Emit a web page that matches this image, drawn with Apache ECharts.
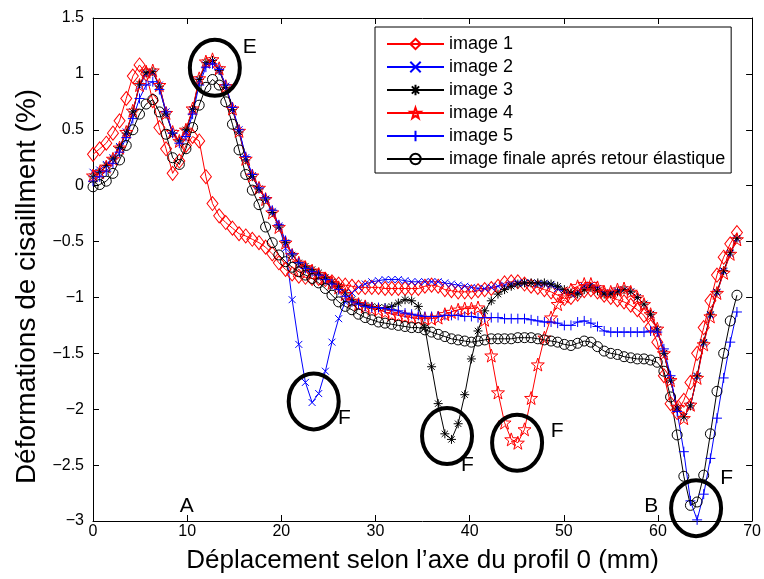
<!DOCTYPE html>
<html>
<head>
<meta charset="utf-8">
<title>Déformations de cisaillment</title>
<script src="https://cdn.jsdelivr.net/npm/echarts@6/dist/echarts.min.js"></script>
<style>
  html, body { margin: 0; padding: 0; background: #fff; }
  #main { width: 764px; height: 579px; }
</style>
</head>
<body>
<div id="main"></div>
<script>
// position le long du profil (mm)
var xs = [0, 0.71, 1.41, 2.12, 2.82, 3.53, 4.23, 4.94, 5.64, 6.35, 7.05, 7.76, 8.46, 9.17, 9.87, 10.58, 11.28, 11.99, 12.69, 13.40,
  14.10, 14.81, 15.51, 16.22, 16.92, 17.63, 18.33, 19.04, 19.74, 20.45, 21.15, 21.86, 22.56, 23.27, 23.97, 24.68, 25.38, 26.09, 26.79, 27.50,
  28.20, 28.91, 29.61, 30.32, 31.02, 31.73, 32.43, 33.14, 33.84, 34.55, 35.25, 35.96, 36.66, 37.37, 38.07, 38.78, 39.48, 40.19, 40.89, 41.60,
  42.30, 43.01, 43.71, 44.42, 45.12, 45.83, 46.53, 47.24, 47.94, 48.65, 49.35, 50.06, 50.76, 51.47, 52.17, 52.88, 53.58, 54.29, 54.99, 55.70,
  56.40, 57.11, 57.81, 58.52, 59.22, 59.93, 60.63, 61.34, 62.04, 62.75, 63.45, 64.16, 64.86, 65.57, 66.27, 66.98, 67.68, 68.39];

// deformations (%)
var image1 = [0.28, 0.33, 0.38, 0.47, 0.58, 0.78, 0.98, 1.08, 1.00, 0.76, 0.52, 0.33, 0.11, 0.22, 0.36, 0.44, 0.40, 0.08, -0.16, -0.27,
  -0.33, -0.38, -0.43, -0.45, -0.48, -0.51, -0.55, -0.61, -0.69, -0.75, -0.79, -0.81, -0.82, -0.83, -0.83, -0.84, -0.86, -0.88, -0.89, -0.90,
  -0.91, -0.91, -0.91, -0.91, -0.92, -0.92, -0.92, -0.92, -0.92, -0.92, -0.90, -0.89, -0.90, -0.93, -0.94, -0.95, -0.95, -0.95, -0.94, -0.93,
  -0.92, -0.90, -0.87, -0.86, -0.86, -0.88, -0.90, -0.91, -0.93, -0.95, -0.98, -1.01, -1.00, -0.97, -0.94, -0.93, -0.95, -0.98, -1.00, -1.02,
  -1.04, -1.07, -1.11, -1.16, -1.26, -1.40, -1.70, -1.95, -2.03, -1.92, -1.76, -1.50, -1.27, -1.03, -0.80, -0.64, -0.52, -0.42];
var image2 = [0.12, 0.14, 0.19, 0.25, 0.35, 0.48, 0.66, 0.89, 1.00, 1.01, 0.90, 0.66, 0.47, 0.39, 0.48, 0.67, 0.94, 1.08, 1.10, 1.04,
  0.89, 0.69, 0.50, 0.25, 0.09, -0.03, -0.12, -0.23, -0.36, -0.56, -1.02, -1.42, -1.76, -1.94, -1.86, -1.66, -1.40, -1.19, -1.04, -0.96,
  -0.91, -0.88, -0.86, -0.85, -0.84, -0.84, -0.84, -0.85, -0.86, -0.86, -0.86, -0.86, -0.86, -0.87, -0.88, -0.89, -0.90, -0.91, -0.92, -0.92,
  -0.91, -0.90, -0.89, -0.88, -0.87, -0.87, -0.87, -0.88, -0.88, -0.89, -0.92, -0.95, -0.97, -0.95, -0.90, -0.89, -0.92, -0.96, -0.96, -0.94,
  -0.93, -0.95, -1.00, -1.06, -1.15, -1.29, -1.50, -1.74, -1.99, -2.07, -1.97, -1.71, -1.41, -1.16, -0.96, -0.77, -0.61, -0.48];
var image3 = [0.08, 0.12, 0.18, 0.24, 0.34, 0.47, 0.66, 0.91, 1.01, 1.02, 0.89, 0.64, 0.47, 0.40, 0.50, 0.68, 0.95, 1.10, 1.12, 1.03,
  0.88, 0.68, 0.48, 0.23, 0.08, -0.03, -0.12, -0.24, -0.37, -0.51, -0.62, -0.69, -0.72, -0.75, -0.78, -0.82, -0.86, -0.90, -0.96, -1.02,
  -1.05, -1.07, -1.08, -1.09, -1.09, -1.08, -1.05, -1.02, -1.03, -1.08, -1.27, -1.62, -1.95, -2.22, -2.27, -2.13, -1.87, -1.55, -1.30, -1.12,
  -1.03, -0.97, -0.93, -0.90, -0.88, -0.87, -0.87, -0.87, -0.87, -0.88, -0.90, -0.93, -0.96, -0.97, -0.93, -0.91, -0.94, -0.97, -0.97, -0.95,
  -0.93, -0.95, -1.00, -1.06, -1.15, -1.29, -1.50, -1.74, -1.99, -2.07, -1.97, -1.70, -1.40, -1.15, -0.95, -0.76, -0.60, -0.47];
var image4 = [0.09, 0.12, 0.17, 0.24, 0.34, 0.48, 0.67, 0.90, 1.02, 1.03, 0.90, 0.65, 0.48, 0.40, 0.50, 0.69, 0.96, 1.11, 1.13, 1.05,
  0.89, 0.69, 0.49, 0.24, 0.09, -0.02, -0.12, -0.24, -0.37, -0.51, -0.62, -0.69, -0.73, -0.76, -0.79, -0.83, -0.87, -0.91, -0.97, -1.03,
  -1.06, -1.08, -1.10, -1.11, -1.13, -1.15, -1.16, -1.17, -1.18, -1.19, -1.19, -1.19, -1.18, -1.15, -1.13, -1.11, -1.10, -1.10, -1.09, -1.20,
  -1.52, -1.85, -2.12, -2.27, -2.30, -2.18, -1.90, -1.60, -1.36, -1.18, -1.06, -0.99, -0.93, -0.90, -0.88, -0.88, -0.91, -0.95, -0.95, -0.93,
  -0.92, -0.95, -1.00, -1.06, -1.15, -1.28, -1.50, -1.74, -1.98, -2.08, -1.96, -1.72, -1.42, -1.17, -0.96, -0.78, -0.61, -0.48];
var image5 = [0.04, 0.08, 0.13, 0.20, 0.30, 0.43, 0.60, 0.78, 0.90, 0.93, 0.86, 0.66, 0.47, 0.38, 0.44, 0.64, 0.90, 1.06, 1.09, 1.04,
  0.90, 0.70, 0.50, 0.26, 0.10, -0.02, -0.11, -0.22, -0.35, -0.49, -0.61, -0.69, -0.74, -0.77, -0.80, -0.84, -0.88, -0.93, -0.99, -1.04,
  -1.06, -1.08, -1.09, -1.09, -1.10, -1.11, -1.12, -1.14, -1.15, -1.16, -1.17, -1.17, -1.17, -1.16, -1.16, -1.16, -1.17, -1.17, -1.18, -1.18,
  -1.18, -1.18, -1.19, -1.19, -1.19, -1.19, -1.20, -1.21, -1.22, -1.22, -1.23, -1.25, -1.25, -1.22, -1.21, -1.23, -1.26, -1.30, -1.31, -1.31,
  -1.31, -1.31, -1.31, -1.31, -1.30, -1.31, -1.46, -1.70, -2.02, -2.38, -2.82, -2.99, -2.76, -2.44, -2.08, -1.72, -1.40, -1.13];
var imageFinale = [-0.01, 0.01, 0.04, 0.11, 0.23, 0.36, 0.50, 0.64, 0.73, 0.77, 0.66, 0.46, 0.25, 0.19, 0.33, 0.52, 0.72, 0.88, 0.95, 0.90,
  0.75, 0.55, 0.32, 0.10, -0.04, -0.17, -0.37, -0.51, -0.62, -0.68, -0.73, -0.77, -0.80, -0.83, -0.87, -0.92, -0.98, -1.04, -1.08, -1.11,
  -1.15, -1.18, -1.20, -1.22, -1.23, -1.24, -1.25, -1.26, -1.27, -1.27, -1.29, -1.31, -1.33, -1.35, -1.37, -1.38, -1.39, -1.40, -1.39, -1.38,
  -1.37, -1.37, -1.37, -1.37, -1.36, -1.36, -1.36, -1.37, -1.38, -1.39, -1.40, -1.42, -1.43, -1.41, -1.39, -1.40, -1.44, -1.48, -1.50, -1.51,
  -1.53, -1.54, -1.55, -1.55, -1.56, -1.58, -1.66, -1.89, -2.23, -2.60, -2.86, -2.83, -2.59, -2.22, -1.84, -1.50, -1.21, -0.98];

var names = ['image 1', 'image 2', 'image 3', 'image 4', 'image 5', 'image finale aprés retour élastique'];

// annotations: cercles (centre en mm / %) et lettres
var cercles = [[12.94, 1.054], [23.44, -1.93], [37.6, -2.24], [45.04, -2.30], [64.05, -2.885]];
var lettres = [['E', 16.65, 1.24], ['F', 26.7, -2.08], ['F', 39.77, -2.50], ['F', 49.3, -2.20], ['F', 67.3, -2.62],
  ['A', 9.97, -2.87], ['B', 59.28, -2.87]];

var FONT = 'Liberation Sans, Arial, Helvetica, sans-serif';

function pts(ys) {
  var out = [];
  for (var i = 0; i < xs.length; i++) {
    out.push([xs[i], ys[i]]);
  }
  return out;
}

// marqueurs creux facon matlab
var SYM = {
  diamond: 'path://M5,0L10,7L5,14L0,7Z',
  cross: 'path://M0,0L10,10M10,0L0,10',
  aster: 'path://M5,0L5,10M0,5L10,5M1.5,1.5L8.5,8.5M8.5,1.5L1.5,8.5',
  star: 'path://M10,0L12.35,6.76L19.51,6.91L13.8,11.24L15.88,18.09L10,14L4.12,18.09L6.2,11.24L0.49,6.91L7.65,6.76Z',
  plus: 'path://M5,0L5,10M0,5L10,5',
  circle: 'circle'
};

function serie(name, ys, color, symbol, size) {
  return {
    name: name,
    type: 'line',
    data: pts(ys),
    symbol: symbol,
    symbolSize: size,
    showAllSymbol: true,
    lineStyle: { color: color, width: 1 },
    itemStyle: { color: 'transparent', borderColor: color, borderWidth: 1 },
    emphasis: { disabled: true }
  };
}

var minus = function (v) { return String(v).replace('-', '\u2212'); };

var myChart = echarts.init(document.getElementById('main'));

var option = {
  animation: false,
  backgroundColor: '#fff',
  textStyle: { fontFamily: FONT },
  grid: { left: 93, right: 11, top: 18, bottom: 56 },
  legend: {
    orient: 'vertical',
    left: 375,
    top: 27,
    padding: [8, 6, 5, 11],
    itemWidth: 57,
    itemHeight: 13,
    itemGap: 5,
    backgroundColor: '#fff',
    borderColor: '#000',
    borderWidth: 1,
    textStyle: { fontFamily: FONT, fontSize: 18, color: '#000' },
    data: names
  },
  xAxis: [{
    type: 'value', min: 0, max: 70, interval: 10,
    name: 'Déplacement selon l’axe du profil 0 (mm)',
    nameLocation: 'middle', nameGap: 27,
    nameTextStyle: { fontFamily: FONT, fontSize: 26, color: '#000' },
    axisLine: { show: true, onZero: false, lineStyle: { color: '#000', width: 1 } },
    axisTick: { show: true, inside: true, length: 6, lineStyle: { color: '#000' } },
    axisLabel: { fontFamily: FONT, fontSize: 16, color: '#000', margin: 3 },
    splitLine: { show: false }
  }, {
    type: 'value', min: 0, max: 70, interval: 10, position: 'top',
    axisLine: { show: true, onZero: false, lineStyle: { color: '#000', width: 1 } },
    axisTick: { show: true, inside: true, length: 6, lineStyle: { color: '#000' } },
    axisLabel: { show: false },
    splitLine: { show: false }
  }],
  yAxis: [{
    type: 'value', min: -3, max: 1.5, interval: 0.5,
    name: 'Déformations de cisaillment (%)',
    nameLocation: 'middle', nameGap: 52,
    nameTextStyle: { fontFamily: FONT, fontSize: 28, color: '#000', padding: [0, 34, 0, 0] },
    axisLine: { show: true, onZero: false, lineStyle: { color: '#000', width: 1 } },
    axisTick: { show: true, inside: true, length: 6, lineStyle: { color: '#000' } },
    axisLabel: { fontFamily: FONT, fontSize: 16, color: '#000', margin: 9, formatter: minus },
    splitLine: { show: false }
  }, {
    type: 'value', min: -3, max: 1.5, interval: 0.5, position: 'right',
    axisLine: { show: true, onZero: false, lineStyle: { color: '#000', width: 1 } },
    axisTick: { show: true, inside: true, length: 6, lineStyle: { color: '#000' } },
    axisLabel: { show: false },
    splitLine: { show: false }
  }],
  series: [
    serie(names[0], image1, '#ff0000', SYM.diamond, [11, 14]),
    serie(names[1], image2, '#0000ff', SYM.cross, 7),
    serie(names[2], image3, '#000000', SYM.aster, 9),
    serie(names[3], image4, '#ff0000', SYM.star, 13),
    serie(names[4], image5, '#0000ff', SYM.plus, 10),
    serie(names[5], imageFinale, '#000000', SYM.circle, 10)
  ]
};
myChart.setOption(option);

// ellipses et lettres posees en coordonnees du graphe
var gfx = [];
cercles.forEach(function (c) {
  var p = myChart.convertToPixel({ xAxisIndex: 0, yAxisIndex: 0 }, c);
  gfx.push({
    type: 'ellipse', silent: true, z: 100,
    shape: { cx: p[0], cy: p[1], rx: 25, ry: 28 },
    style: { fill: 'none', stroke: '#000', lineWidth: 4 }
  });
});
lettres.forEach(function (l) {
  var p = myChart.convertToPixel({ xAxisIndex: 0, yAxisIndex: 0 }, [l[1], l[2]]);
  gfx.push({
    type: 'text', silent: true, z: 100, x: p[0], y: p[1],
    style: { text: l[0], fill: '#000', font: '21px ' + FONT, align: 'center', verticalAlign: 'middle' }
  });
});
myChart.setOption({ graphic: gfx });
</script>
</body>
</html>
